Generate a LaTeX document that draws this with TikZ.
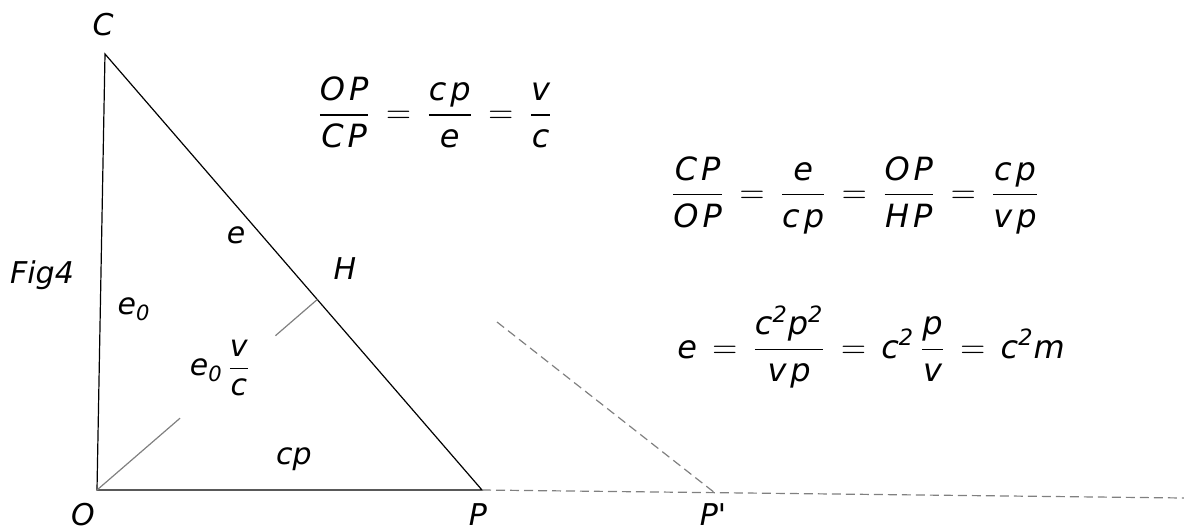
\documentclass[tikz,border=0pt]{standalone}
\usepackage{amsmath}
\usepackage{fontspec}
\setmainfont{DejaVu Sans}
\usetikzlibrary{calc}

\newcommand{\tv}[1]{\textit{#1}}
\newcommand{\eqs}{\mathrel{\mkern3mu=\mkern3mu}}

\begin{document}
\begin{tikzpicture}[x=0.5pt, y=-0.5pt, font=\fontsize{15}{18}\selectfont\itshape,
    side/.style={line width=0.6pt},
    foot/.style={gray, line width=0.6pt},
    guide/.style={gray, line width=0.6pt, dash pattern=on 4.5pt off 2.5pt},
    formula/.style={font=\fontsize{16}{19}\selectfont\itshape}]
    \useasboundingbox (0,0) rectangle (1184,531);

    % triangle
    \coordinate (O) at (97,490);
    \coordinate (P) at (482,490);
    \coordinate (C) at (105,54);
    \coordinate (H) at ($(C)!(O)!(P)$);
    \coordinate (Pp) at (715,493);
    \coordinate (Q) at (497,322);
    \coordinate (R) at (1184,498);

    \draw[side] (C) -- (O) -- (P) -- cycle;
    \draw[foot] (O) -- ($(O)!0.377!(H)$);
    \draw[foot] ($(O)!0.81!(H)$) -- (H);
    \draw[guide] (P) -- (R);
    \draw[guide] (Q) -- (Pp);

    % labels
    \node (lC) at (103,25) {C};
    \node (lO) at (83,515) {O};
    \node (lP) at (478,515) {P};
    \node (lPp) at (713,515) {P\textquotesingle};
    \node (lH) at (345,269) {H};
    \node (le) at (236,235) {e};
    \node (fig) at (42,275) {Fig4};
    \node (le0) at (134,309) {$\tv{e}_{\tv{0}}$};
    \node (lev) at (220,368) {$\tv{e}_{\tv{0}}\,\dfrac{\tv{v}}{\tv{c}}$};
    \node (lcp) at (294,459) {cp};

    % equations
    \node[formula] (eqa) at (435,112) {$\dfrac{\tv{O\kern2pt P}}{\tv{C\kern2pt P}} \eqs \dfrac{\tv{c\kern2pt p}}{\tv{e}} \eqs \dfrac{\tv{v}}{\tv{c}}$};
    \node[formula] (eqb) at (855,195) {$\dfrac{\tv{C\kern2pt P}}{\tv{O\kern2pt P}} \eqs \dfrac{\tv{e}}{\tv{c\kern2pt p}} \eqs \dfrac{\tv{O\kern2pt P}}{\tv{H\kern2pt P}} \eqs \dfrac{\tv{c\kern2pt p}}{\tv{v\kern2pt p}}$};
    \node[formula] (eqc) at (871,347) {$\tv{e} \eqs \dfrac{\tv{c}^{\tv{2}}\tv{p}^{\tv{2}}}{\tv{v\kern2pt p}} \eqs \tv{c}^{\tv{2}}\,\dfrac{\tv{p}}{\tv{v}} \eqs \tv{c}^{\tv{2}}\tv{m}$};
\end{tikzpicture}
\end{document}
